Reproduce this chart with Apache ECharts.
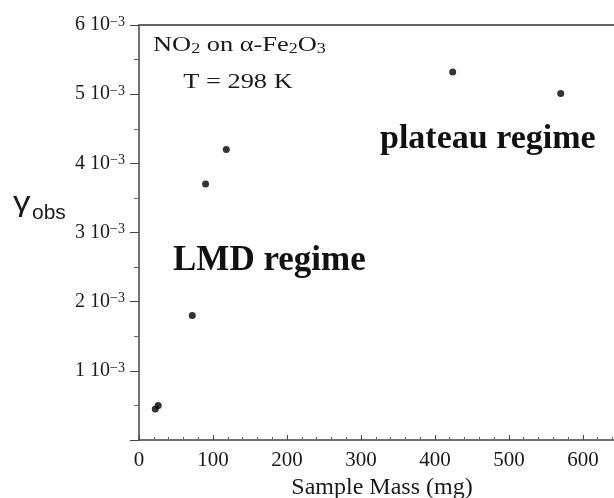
<!DOCTYPE html>
<html>
<head>
<meta charset="utf-8">
<script src="https://cdn.jsdelivr.net/npm/echarts@6/dist/echarts.min.js"></script>
<style>
html,body{margin:0;padding:0;background:#fff;}
#chart{width:614px;height:498px;}
</style>
</head>
<body>
<div id="chart"></div>
<script>
// Uptake coefficient of NO2 on alpha-Fe2O3 versus sample mass
var sampleMass = [22, 26, 72, 90, 118, 424, 570];          // mg
var gammaObs   = [0.45e-3, 0.50e-3, 1.80e-3, 3.70e-3, 4.20e-3, 5.32e-3, 5.01e-3];
var xTicks = [0, 100, 200, 300, 400, 500, 600];
var yTickMantissa = [1, 2, 3, 4, 5, 6];                    // × 10^-3

var points = sampleMass.map(function (m, i) { return [m, gammaObs[i]]; });
var serif = '"Liberation Serif", "DejaVu Serif", serif';
var sans = '"Liberation Sans", sans-serif';
var ink = '#1a1a1a';

var chart = echarts.init(document.getElementById('chart'), null, { renderer: 'canvas' });
chart.setOption({
  animation: false,
  backgroundColor: '#fff',
  grid: { left: 139, top: 25, right: 0, bottom: 58, outerBoundsMode: 'none', containLabel: false },
  xAxis: [{
    type: 'value', min: 0, max: 642, interval: 100,
    name: 'Sample Mass (mg)', nameLocation: 'middle', nameGap: 28,
    nameTextStyle: { fontFamily: serif, fontSize: 24, color: ink, padding: [0, 0, 0, 11], lineHeight: 24 },
    axisLine: { show: true, lineStyle: { color: '#444', width: 1.5 } },
    axisTick: { show: true, inside: true, length: 5, lineStyle: { color: '#444' } },
    minorTick: { show: true, splitNumber: 5, length: 3, lineStyle: { color: '#666' } },
    axisLabel: {
      fontFamily: serif, fontSize: 21, color: ink, margin: 10,
      showMaxLabel: false,
      formatter: function (v) { return xTicks.indexOf(v) >= 0 ? String(v) : ''; }
    },
    splitLine: { show: false }
  }, {
    // frame line along the top edge
    type: 'value', position: 'top', min: 0, max: 642,
    axisLine: { show: true, lineStyle: { color: '#666', width: 2 } },
    axisTick: { show: false }, axisLabel: { show: false }, splitLine: { show: false }
  }],
  yAxis: {
    type: 'value', min: 0, max: 6e-3, interval: 1e-3,
    axisLine: { show: true, lineStyle: { color: '#444', width: 1.5 } },
    axisTick: { show: true, inside: false, length: 9, lineStyle: { color: '#444' } },
    minorTick: { show: true, splitNumber: 2, length: 5, lineStyle: { color: '#666' } },
    axisLabel: {
      margin: 14, showMinLabel: false,
      formatter: function (v) {
        var k = Math.round(v * 1000);
        if (yTickMantissa.indexOf(k) < 0) return '';
        return '{m|' + k + ' 10}{e|−3}';
      },
      rich: {
        m: { fontFamily: serif, fontSize: 20, color: ink, lineHeight: 20 },
        e: { fontFamily: serif, fontSize: 14, color: ink, verticalAlign: 'top', lineHeight: 20, padding: [0, 0, 8, 0] }
      }
    },
    splitLine: { show: false }
  },
  series: [{
    type: 'scatter',
    data: points,
    symbol: 'circle', symbolSize: 7,
    itemStyle: { color: '#000' }
  }],
  graphic: [
    {
      type: 'text', x: 13, y: 204, scaleX: 1.3,
      style: { text: 'γ', fontFamily: sans, fontSize: 27, fill: ink, verticalAlign: 'middle' }
    },
    {
      type: 'text', x: 32, y: 213,
      style: { text: 'obs', fontFamily: sans, fontSize: 21, fill: ink, verticalAlign: 'middle' }
    },
    {
      type: 'text', x: 153, y: 33, scaleX: 1.2,
      style: {
        text: '{t|NO}{s|2}{t| on α-Fe}{s|2}{t|O}{s|3}',
        verticalAlign: 'top',
        rich: {
          t: { fontFamily: serif, fontSize: 22, fill: ink, lineHeight: 24 },
          s: { fontFamily: serif, fontSize: 15, fill: ink, lineHeight: 24, padding: [9, 0, 0, 0] }
        }
      }
    },
    {
      type: 'text', x: 238, y: 71, scaleX: 1.2,
      style: { text: 'T = 298 K', fontFamily: serif, fontSize: 22, fill: ink, align: 'center', verticalAlign: 'top' }
    },
    {
      type: 'text', left: 173, top: 243,
      style: { text: 'LMD regime', fontFamily: serif, fontSize: 35, fontWeight: 'bold', fill: '#111' }
    },
    {
      type: 'text', left: 380, top: 122,
      style: { text: 'plateau regime', fontFamily: serif, fontSize: 34, fontWeight: 'bold', fill: '#111' }
    }
  ]
});
</script>
</body>
</html>
